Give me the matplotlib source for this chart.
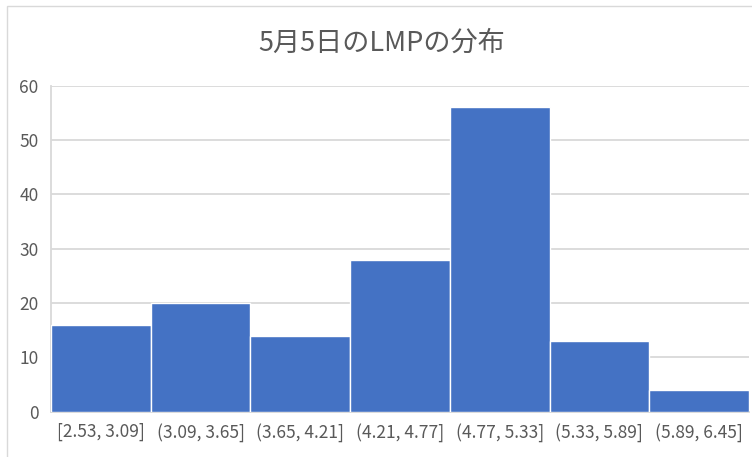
import matplotlib
matplotlib.use('Agg')
import matplotlib.pyplot as plt
from matplotlib.patches import Rectangle

plt.rcParams['font.family'] = ['Noto Sans CJK JP', 'DejaVu Sans']

# LMP histogram bins and counts
bins = ['[2.53, 3.09]', '(3.09, 3.65]', '(3.65, 4.21]', '(4.21, 4.77]',
        '(4.77, 5.33]', '(5.33, 5.89]', '(5.89, 6.45]']
counts = [16, 20, 14, 28, 56, 13, 4]
yticks = [0, 10, 20, 30, 40, 50, 60]
title = '5月5日のLMPの分布'

text_color = '#595959'
grid_color = '#d9d9d9'
bar_color = '#4472c4'

fig = plt.figure(figsize=(7.52, 4.57), dpi=100)
# thin chart-area frame
fig.patches.append(Rectangle((7 / 752, -0.1), 1.2, 1 - 6 / 457 + 0.1, transform=fig.transFigure,
                             fill=False, edgecolor=grid_color, linewidth=1))

ax = fig.add_axes([51 / 752, 1 - 411.7 / 457, 698 / 752, 326 / 457])
x = range(len(bins))
ax.bar(x, counts, width=1.0, color=bar_color, edgecolor='white', linewidth=1, zorder=3)

ax.set_xlim(-0.5, len(bins) - 0.5)
ax.set_ylim(0, 60)
ax.set_yticks(yticks)
ax.set_xticks(list(x))
ax.set_xticklabels(bins)
ax.yaxis.grid(True, color=grid_color, linewidth=1.3, zorder=0)
ax.tick_params(axis='both', length=0, colors=text_color, labelsize=12.5)
ax.tick_params(axis='y', pad=9)
ax.tick_params(axis='x', pad=8)
for side in ['top', 'right']:
    ax.spines[side].set_visible(False)
for side in ['left', 'bottom']:
    ax.spines[side].set_color(grid_color)
    ax.spines[side].set_linewidth(1.3)

fig.text(382 / 752, 1 - 43 / 457, title, ha='center', va='center', fontsize=19.5, color=text_color)

fig.savefig('out.png', dpi=100)
